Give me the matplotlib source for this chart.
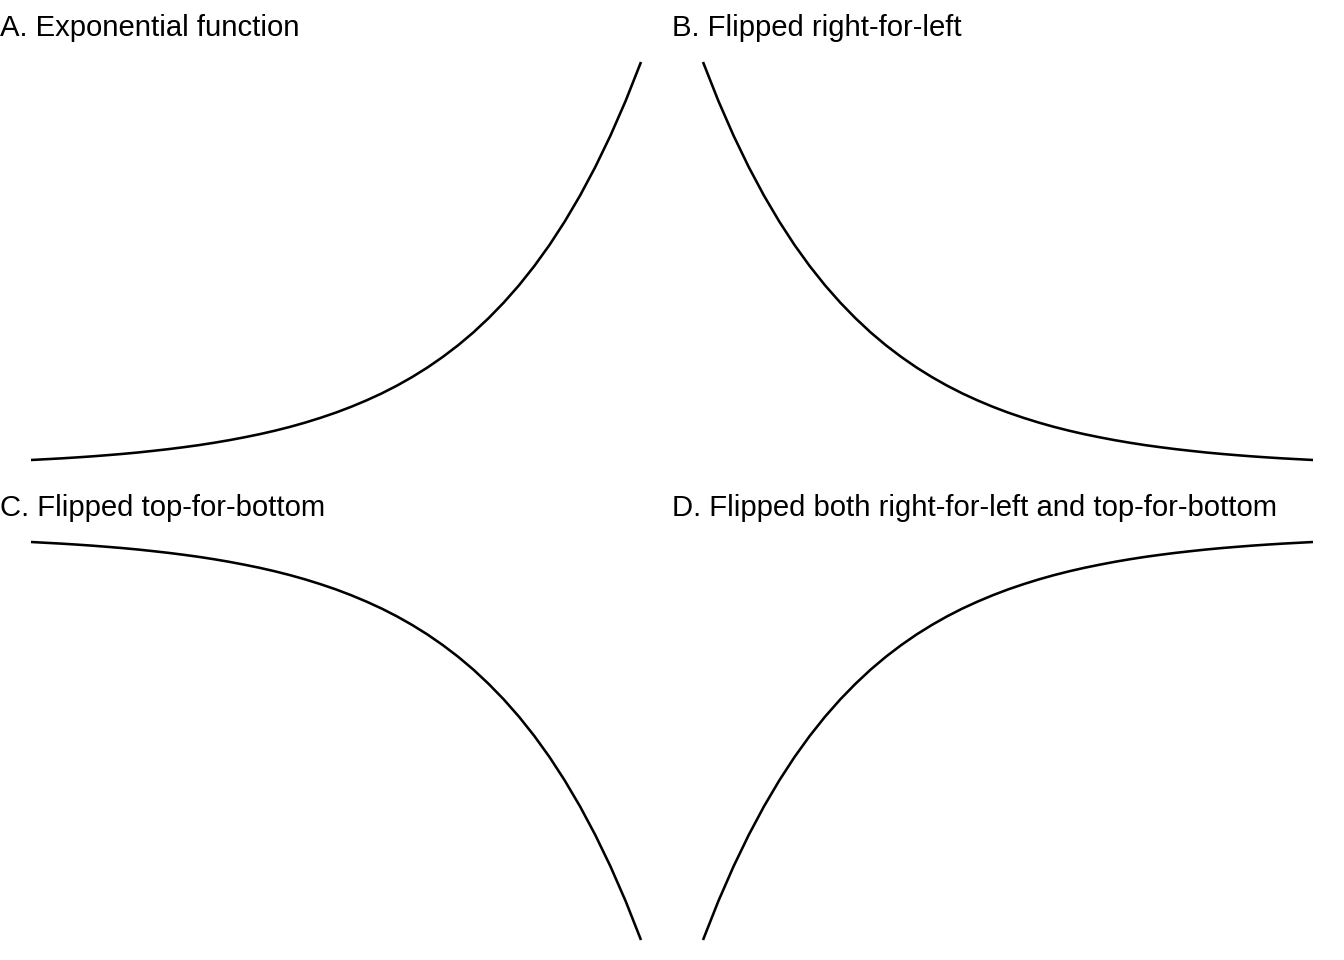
import matplotlib
matplotlib.use("Agg")
import matplotlib.pyplot as plt

# Values (x from 0 to 4, y = exponential growth)
x_vals = [0.0, 0.1, 0.2, 0.3, 0.4, 0.5, 0.6, 0.7, 0.8, 0.9,
          1.0, 1.1, 1.2, 1.3, 1.4, 1.5, 1.6, 1.7, 1.8, 1.9,
          2.0, 2.1, 2.2, 2.3, 2.4, 2.5, 2.6, 2.7, 2.8, 2.9,
          3.0, 3.1, 3.2, 3.3, 3.4, 3.5, 3.6, 3.7, 3.8, 3.9, 4.0]
y_vals = [1.00, 1.11, 1.22, 1.35, 1.49, 1.65, 1.82, 2.01, 2.23, 2.46,
          2.72, 3.00, 3.32, 3.67, 4.06, 4.48, 4.95, 5.47, 6.05, 6.69,
          7.39, 8.17, 9.03, 9.97, 11.02, 12.18, 13.46, 14.88, 16.44, 18.17,
          20.09, 22.20, 24.53, 27.11, 29.96, 33.12, 36.60, 40.45, 44.70, 49.40, 54.60]

titles = ["A. Exponential function",
          "B. Flipped right-for-left",
          "C. Flipped top-for-bottom",
          "D. Flipped both right-for-left and top-for-bottom"]
flip_x = [False, True, False, True]
flip_y = [False, False, True, True]

W, H = 1344, 960
fig = plt.figure(figsize=(W / 100, H / 100), dpi=100)
fig.patch.set_facecolor("white")

# panel pixel boxes: (left, top, right, bottom) of the curve area
boxes = [(31, 62, 641, 460), (703, 62, 1313, 460),
         (31, 542, 641, 940), (703, 542, 1313, 940)]
title_pos = [(0, 36), (672, 36), (0, 516), (672, 516)]

for i in range(4):
    l, t, r, b = boxes[i]
    ax = fig.add_axes([l / W, 1 - b / H, (r - l) / W, (b - t) / H])
    ax.plot(x_vals, y_vals, color="black", lw=1.85, clip_on=False,
            solid_capstyle="butt", solid_joinstyle="round")
    xl = (min(x_vals), max(x_vals))
    yl = (min(y_vals), max(y_vals))
    ax.set_xlim(xl[::-1] if flip_x[i] else xl)
    ax.set_ylim(yl[::-1] if flip_y[i] else yl)
    ax.axis("off")
    tx, ty = title_pos[i]
    fig.text(tx / W, 1 - ty / H, titles[i], fontsize=21.1,
             family=["Liberation Sans", "DejaVu Sans"],
             ha="left", va="baseline", color="black")

fig.savefig("out.png", dpi=100, facecolor="white")
